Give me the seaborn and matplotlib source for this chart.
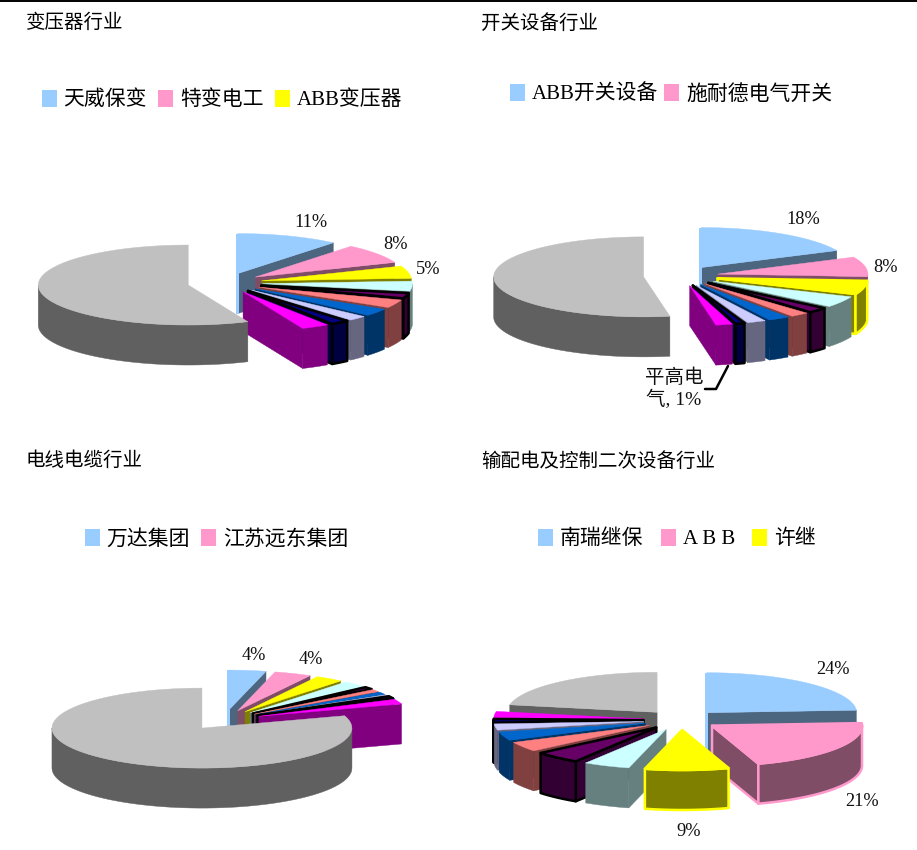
import numpy as np
import matplotlib
matplotlib.use("Agg")
import matplotlib.pyplot as plt
from matplotlib.patches import Patch
import seaborn as sns

# ---- data -------------------------------------------------------------
transformer_values = [11, 8, 5, 4, 2.2, 3.3, 3, 2, 2, 3, 56.5]
switchgear_values = [18, 8, 5.4, 4.5, 2.2, 2, 2.3, 2, 1, 1.8, 52.8]
cable_values = [4, 4, 3, 2.5, 1, 1, 1, 0.5, 1, 2, 80]
secondary_values = [24, 21, 9, 5, 5, 4, 3.5, 2.5, 1.5, 2.5, 22]

titles = ["变压器行业", "开关设备行业", "电线电缆行业", "输配电及控制二次设备行业"]
legend_names = [
    ["天威保变", "特变电工", "ABB变压器"],
    ["ABB开关设备", "施耐德电气开关"],
    ["万达集团", "江苏远东集团"],
    ["南瑞继保", "A B B", "许继"],
]
percent_labels = [
    ["11%", "8%", "5%"],
    ["18%", "8%", "平高电\n气, 1%"],
    ["4%", "4%"],
    ["24%", "21%", "9%"],
]
slice_hex = ["#99CCFF", "#FF99CC", "#FFFF00", "#CCFFFF", "#660066", "#FF8080",
             "#0066CC", "#CCCCFF", "#000080", "#FF00FF", "#C0C0C0"]

# ---- style ------------------------------------------------------------
sns.set_theme(style="white")
plt.rcParams["font.family"] = ["Liberation Serif", "Noto Sans CJK SC", "DejaVu Sans"]
palette = sns.color_palette(slice_hex)

fig = plt.figure(figsize=(9.17, 8.5), dpi=100)
ax = fig.add_axes([0, 0, 1, 1])
ax.set_xlim(0, 917)
ax.set_ylim(850, 0)
ax.set_axis_off()


def draw_pie(values, cx, cy, outlines, grey_on_top=False, rx=150, ry=40, depth=40, explode=0.25):
    vals = np.asarray(values, dtype=float)
    edges = np.concatenate([[0], np.cumsum(vals)]) / vals.sum() * 2 * np.pi
    mids = (edges[:-1] + edges[1:]) / 2
    order = sorted(range(len(vals)),
                   key=lambda i: (-np.cos(mids[i])
                                  + (5 if grey_on_top and i == len(vals) - 1 else 0)))
    z = 3
    for i in order:
        a0, a1 = edges[i], edges[i + 1]
        ax0 = cx + explode * rx * np.sin(mids[i])
        ay0 = cy - explode * ry * np.cos(mids[i])
        top = palette[i]
        side = tuple(c * 0.5 for c in top)
        ec = outlines.get(i)

        def poly(xs, ys, col, zz):
            ax.fill(xs, ys, facecolor=col, zorder=zz, edgecolor=ec if ec else col,
                    linewidth=1.8 if ec else 0.3, joinstyle="round")

        # radial cut faces
        for ang, visible in ((a0, np.sin(a0) < -1e-6), (a1, np.sin(a1) > 1e-6)):
            if visible:
                ox = ax0 + rx * np.sin(ang)
                oy = ay0 - ry * np.cos(ang)
                poly([ax0, ox, ox, ax0], [ay0, oy, oy + depth, ay0 + depth], side, z)
        # outer wall
        lo, hi = max(a0, np.pi / 2), min(a1, 3 * np.pi / 2)
        if hi > lo:
            t = np.linspace(lo, hi, 60)
            xs = ax0 + rx * np.sin(t)
            ys = ay0 - ry * np.cos(t)
            poly(np.r_[xs, xs[::-1]], np.r_[ys, ys[::-1] + depth], side, z + 0.1)
        # light strip of the first slice's start face
        if i == 0:
            ax.fill([ax0 - 2, ax0 + 1, ax0 + 1, ax0 - 2],
                    [ay0 - ry, ay0 - ry, ay0 + depth, ay0 + depth],
                    facecolor=top, edgecolor="none", zorder=z + 0.15)
        # top face
        t = np.linspace(a0, a1, 80)
        poly(np.r_[ax0, ax0 + rx * np.sin(t)], np.r_[ay0, ay0 - ry * np.cos(t)], top, z + 0.2)
        z += 1


black = "#000000"
draw_pie(transformer_values, 225, 283, {4: black, 8: black}, grey_on_top=True)
draw_pie(switchgear_values, 681, 276, {2: palette[2], 4: black, 8: black})
draw_pie(cable_values, 224, 720, {4: black, 8: black}, grey_on_top=True)
draw_pie(secondary_values, 681, 720, {1: palette[1], 2: palette[2], 4: black, 8: black})

# top rule
ax.plot([0, 917], [0.5, 0.5], color="black", lw=1.4, zorder=50, clip_on=False)

# titles
title_pos = [(26, 23), (481, 23), (26, 461), (481, 461)]
title_size = 14.0
for (x, y), s in zip(title_pos, titles):
    ax.text(x, y, s, fontsize=title_size, ha="left", va="center", color="black", zorder=60)

# legends
legend_anchor = [(27, 100), (495, 94), (70, 539), (523, 539)]
legend_gap = [0.55, 0.3, 0.55, 0.85]
for names, (x, y), gap in zip(legend_names, legend_anchor, legend_gap):
    handles = [Patch(facecolor=palette[k], edgecolor="none", label=n) for k, n in enumerate(names)]
    fig.legend(handles=handles, ncols=len(names), frameon=False, fontsize=15,
               loc="center left", bbox_to_anchor=(x / 917, 1 - y / 850),
               handlelength=0.72, handleheight=0.9, handletextpad=0.33, columnspacing=gap,
               borderpad=0.2, labelcolor="black")

# percent labels
label_pos = [
    [(311, 222), (396, 244), (428, 270)],
    [(803, 219), (885, 267), (674, 389)],
    [(254, 656), (311, 660)],
    [(833, 669), (862, 802), (689, 832)],
]
for labels, positions in zip(percent_labels, label_pos):
    for s, (x, y) in zip(labels, positions):
        size = 14 if "\n" in s else 13.2
        ax.text(x, y, s, fontsize=size, ha="center", va="center", color="#111111",
                zorder=60, linespacing=1.2)

# leader line for the small slice
ax.plot([728, 716, 705], [366, 389, 389], color="black", lw=1.8, zorder=55)

sns.despine(ax=ax, left=True, bottom=True)
fig.savefig("out.png", dpi=100, facecolor="white")
